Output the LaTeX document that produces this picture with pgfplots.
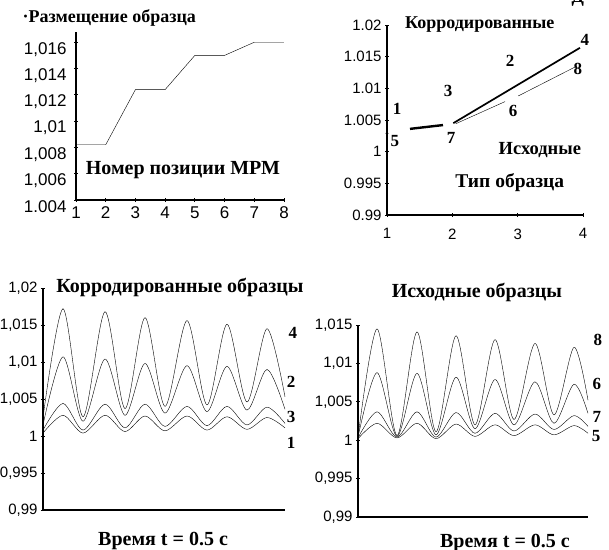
\documentclass[border=0pt]{standalone}
\usepackage{fontspec}
\setmainfont{Liberation Serif}
\setsansfont{Liberation Sans}
\usepackage{pgfplots}
\pgfplotsset{compat=1.18}
\pgfplotsset{
  panel/.style={
    scale only axis, anchor=south west, clip=false,
    axis x line*=bottom, axis y line*=left,
    axis line style={-, line width=1.8pt, black},
    tick style={black, line width=0.8pt},
    major tick length=4pt, tick align=center,
    ticklabel style={font=\sffamily\fontsize{15}{15}\selectfont},
    /pgf/number format/assume math mode=true,
    cycle list={{black, line width=1.7pt, no markers}},
  },
}
\tikzset{
  ttl/.style={font=\bfseries\fontsize{18}{18}\selectfont},
  big/.style={font=\bfseries\fontsize{20}{20}\selectfont},
  num/.style={font=\bfseries\fontsize{17}{17}\selectfont},
}
\begin{document}
\begin{tikzpicture}
\path[use as bounding box] (0pt,0pt) rectangle (609pt,549pt);

% ---------- Panel 1 ----------
\begin{axis}[panel, at={(76pt,349pt)}, width=208pt, height=168pt,
  xmin=1, xmax=8, ymin=1.004, ymax=1.01678,
  xtick={1,2,3,4,5,6,7,8},
  ytick={1.004,1.006,1.008,1.01,1.012,1.014,1.016},
  yticklabels={{1.004},{1,006},{1,008},{1,01},{1,012},{1,014},{1,016}},
  ticklabel style={font=\sffamily\fontsize{17}{17}\selectfont},
  yticklabel style={yshift=-7pt, xshift=-4pt},
  xticklabel style={yshift=-1pt}]
\addplot coordinates {(1,1.0082)(2,1.0082)(3,1.0124)(4,1.0124)(5,1.0150)(6,1.0150)(7,1.0160)(8,1.0160)};
\node[ttl] at (rel axis cs:0.16,1.083) {·Размещение образца};
\node[big] at (rel axis cs:0.514,0.179) {Номер позиции МРМ};
\end{axis}

% ---------- Panel 2 ----------
\begin{axis}[panel, at={(387pt,334pt)}, width=196pt, height=190pt,
  xmin=1, xmax=4, ymin=0.99, ymax=1.02,
  xtick={1,2,3,4},
  ytick={0.99,0.995,1,1.005,1.01,1.015,1.02},
  yticklabels={{0.99},{0.995},{1},{1.005},{1.01},{1.015},{1.02}},
  xticklabel style={yshift=-8pt}]
\addplot[black, line width=2.4pt] coordinates {(1.352,1.0036)(1.857,1.0042)};
\addplot coordinates {(2.015,1.0045)(3.954,1.0164)};
\addplot coordinates {(2.05,1.0044)(2.806,1.0079)};
\addplot coordinates {(3.01,1.0088)(3.904,1.0135)};
\addplot[black, only marks, mark=*, mark size=1.2pt] coordinates {(1,1.0029)};
\node[num] at (axis cs:1.153,1.0068) {1};
\node[num] at (axis cs:1.122,1.0017) {5};
\node[num] at (axis cs:1.934,1.0096) {3};
\node[num] at (axis cs:1.98,1.0021) {7};
\node[num] at (axis cs:2.883,1.0143) {2};
\node[num] at (axis cs:2.929,1.0065) {6};
\node[num] at (axis cs:4.03,1.0177) {4};
\node[num] at (axis cs:3.92,1.013) {8};
\node[ttl] at (axis cs:2.42,1.0200) {Корродированные};
\node[font=\bfseries\fontsize{18.5}{19}\selectfont] at (axis cs:3.34,1.0003) {Исходные};
\node[font=\bfseries\fontsize{19.5}{20}\selectfont] at (axis cs:2.88,0.9951) {Тип образца};
\node[ttl, anchor=base] at (rel axis cs:0.974,1.121) {Д};
\end{axis}

% ---------- Panel 3 ----------
\begin{axis}[panel, at={(43pt,39pt)}, width=242pt, height=222pt,
  xmin=0, xmax=242, ymin=0.99, ymax=1.02,
  xtick=\empty,
  y axis line style={line width=2.8pt},
  ytick={0.99,0.995,1,1.005,1.01,1.015,1.02},
  yticklabels={{0,99},{0,995},{1},{1,005},{1,01},{1,015},{1,02}}]
\addplot[smooth] coordinates {(0,1.0025)(20,1.0172)(40,1.0026)(62,1.0168)(82,1.0037)(102,1.0160)(122,1.0040)(144,1.0156)(164,1.0042)(184,1.0151)(204,1.0046)(224,1.0145)(242,1.0053)};
\addplot[smooth] coordinates {(0,1.0015)(20,1.0107)(40,1.0020)(62,1.0104)(82,1.0028)(102,1.0098)(122,1.0031)(144,1.0095)(164,1.0033)(184,1.0094)(204,1.0035)(224,1.0090)(242,1.0036)};
\addplot[smooth] coordinates {(0,1.0008)(20,1.0044)(40,1.0008)(62,1.0043)(82,1.0011)(102,1.0043)(122,1.0013)(144,1.0040)(164,1.0014)(184,1.0040)(204,1.0015)(224,1.0039)(242,1.0017)};
\addplot[smooth] coordinates {(0,1.0004)(20,1.0028)(40,1.0004)(62,1.0028)(82,1.0006)(102,1.0027)(122,1.0007)(144,1.0027)(164,1.0008)(184,1.0026)(204,1.0009)(224,1.0025)(242,1.0011)};
\node[big] at (rel axis cs:0.566,1.0045) {Корродированные образцы};
\node[big, inner sep=0pt] at (rel axis cs:0.496,-0.14) {Время t = 0.5 с};
\node[num] at (rel axis cs:1.033,0.797) {4};
\node[num] at (rel axis cs:1.025,0.577) {2};
\node[num] at (rel axis cs:1.025,0.419) {3};
\node[num] at (rel axis cs:1.025,0.302) {1};
\end{axis}

% ---------- Panel 4 ----------
\begin{axis}[panel, at={(358pt,32pt)}, width=230pt, height=192pt,
  xmin=0, xmax=230, ymin=0.99, ymax=1.015,
  xtick=\empty,
  y axis line style={line width=2.8pt},
  ytick={0.99,0.995,1,1.005,1.01,1.015},
  yticklabels={{0,99},{0,995},{1},{1,005},{1,01},{1,015}}]
\addplot[smooth] coordinates {(0,1.0004)(19,1.0145)(39,1.0006)(59,1.0141)(78,1.0011)(98,1.0136)(117,1.0020)(137,1.0131)(156,1.0027)(177,1.0126)(196,1.0033)(216,1.0121)(230,1.0052)};
\addplot[smooth] coordinates {(0,1.0004)(19,1.0088)(39,1.0005)(59,1.0087)(78,1.0007)(98,1.0082)(117,1.0015)(137,1.0079)(156,1.0020)(177,1.0076)(196,1.0022)(216,1.0073)(230,1.0035)};
\addplot[smooth] coordinates {(0,1.0003)(19,1.0037)(39,1.0004)(59,1.0037)(78,1.0004)(98,1.0036)(117,1.0009)(137,1.0035)(156,1.0012)(177,1.0034)(196,1.0014)(216,1.0032)(230,1.0018)};
\addplot[smooth] coordinates {(0,1.0002)(19,1.0022)(39,1.0003)(59,1.0022)(78,1.0002)(98,1.0021)(117,1.0005)(137,1.0020)(156,1.0006)(177,1.0020)(196,1.0007)(216,1.0019)(230,1.0009)};
\node[big] at (rel axis cs:0.517,1.172) {Исходные образцы};
\node[big, inner sep=0pt] at (rel axis cs:0.639,-0.135) {Время t = 0.5 с};
\node[num] at (rel axis cs:1.043,0.922) {8};
\node[num] at (rel axis cs:1.039,0.693) {6};
\node[num] at (rel axis cs:1.039,0.521) {7};
\node[num] at (rel axis cs:1.035,0.422) {5};
\end{axis}
\end{tikzpicture}
\end{document}
